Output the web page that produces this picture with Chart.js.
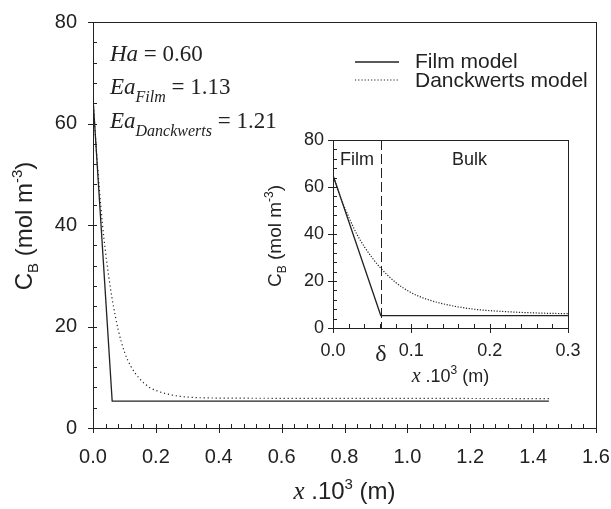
<!DOCTYPE html>
<html>
<head>
<meta charset="utf-8">
<script src="https://cdn.jsdelivr.net/npm/chart.js@4.4.0/dist/chart.umd.min.js"></script>
<style>
  html, body { margin: 0; padding: 0; background: #fff; }
  #wrap { position: relative; width: 611px; height: 509px; }
  #mainChart { position: absolute; left: 0; top: 0; }
  #insetChart { position: absolute; left: 255px; top: 125px; }
</style>
</head>
<body>
<div id="wrap">
  <canvas id="mainChart" width="611" height="509"></canvas>
  <canvas id="insetChart" width="335" height="270"></canvas>
</div>
<script>
// --- data (x in mm, C_B in mol m^-3) ---
const filmX = [0, 0.061, 1.45];
const filmY = [65, 5.3, 5.3];
const danckX = [0, 0.01, 0.02, 0.03, 0.04, 0.05, 0.06, 0.08, 0.10, 0.12, 0.15, 0.18, 0.20, 0.25, 0.30, 0.40, 0.70, 1.45];
const danckY = [65, 55.3, 47.3, 40.2, 34.6, 29.9, 25.8, 19.4, 15.0, 12.2, 9.6, 8.0, 7.4, 6.5, 6.1, 5.9, 5.85, 5.8];
const deltaX = 0.061;

// --- ticks ---
const mainXTicks = [0, 0.2, 0.4, 0.6, 0.8, 1.0, 1.2, 1.4, 1.6];
const mainYTicks = [0, 20, 40, 60, 80];
const insetXTicks = [0, 0.1, 0.2, 0.3];
const insetYTicks = [0, 20, 40, 60, 80];

const SANS = '"Liberation Sans", Arial, sans-serif';
const SERIF = '"Liberation Serif", "Times New Roman", serif';
const INK = '#222';

const pts = (xs, ys) => xs.map((x, i) => ({ x: x, y: ys[i] }));

// draw a row of text pieces with different fonts / offsets
function drawRuns(ctx, runs, x, y, align) {
  let w = 0;
  runs.forEach(r => { ctx.font = r.font; w += ctx.measureText(r.t).width; });
  let cx = align === 'center' ? x - w / 2 : x;
  ctx.textBaseline = 'alphabetic';
  ctx.textAlign = 'left';
  runs.forEach(r => {
    ctx.font = r.font;
    ctx.fillText(r.t, cx, y + (r.dy || 0));
    cx += ctx.measureText(r.t).width;
  });
}

// inward ticks, crossing major ticks and box frame
const tickMarks = {
  id: 'tickMarks',
  afterDraw(chart, args, o) {
    const ctx = chart.ctx, a = chart.chartArea;
    const xs = chart.scales.x, ys = chart.scales.y;
    ctx.save();
    ctx.strokeStyle = INK;
    ctx.lineWidth = 1;
    ctx.beginPath();
    const px = v => Math.round(xs.getPixelForValue(v)) + 0.5;
    const py = v => Math.round(ys.getPixelForValue(v)) + 0.5;
    for (let v = o.xMin; v <= o.xMax + 1e-9; v += o.xMinor) {
      const p = px(v);
      ctx.moveTo(p, a.bottom); ctx.lineTo(p, a.bottom - 4);
    }
    o.xMajor.forEach(v => { const p = px(v); ctx.moveTo(p, a.bottom + 5); ctx.lineTo(p, a.bottom - 4); });
    for (let v = o.yMin; v <= o.yMax + 1e-9; v += o.yMinor) {
      const p = py(v);
      ctx.moveTo(a.left, p); ctx.lineTo(a.left + 4, p);
    }
    o.yMajor.forEach(v => { const p = py(v); ctx.moveTo(a.left - 5, p); ctx.lineTo(a.left + 3, p); });
    ctx.stroke();
    ctx.strokeRect(Math.round(a.left) + 0.5, Math.round(a.top) + 0.5, Math.round(a.width), Math.round(a.height));
    ctx.restore();
  }
};

// labels, legend and titles of the main plot
const mainText = {
  id: 'mainText',
  afterDraw(chart) {
    const ctx = chart.ctx, a = chart.chartArea;
    ctx.save();
    ctx.fillStyle = INK;
    const it = 'italic 23px ' + SERIF, rg = '23px ' + SERIF, sub = 'italic 16px ' + SERIF;
    drawRuns(ctx, [{ t: 'Ha', font: it }, { t: ' = 0.60', font: rg }], 110, 61);
    drawRuns(ctx, [{ t: 'Ea', font: it }, { t: 'Film', font: sub, dy: 8 }, { t: ' = 1.13', font: rg }], 110, 94);
    drawRuns(ctx, [{ t: 'Ea', font: it }, { t: 'Danckwerts', font: sub, dy: 8 }, { t: ' = 1.21', font: rg }], 110, 128);

    // legend
    ctx.strokeStyle = INK;
    ctx.lineWidth = 1.3;
    ctx.beginPath(); ctx.moveTo(355, 62); ctx.lineTo(399, 62); ctx.stroke();
    ctx.lineWidth = 1.2;
    ctx.setLineDash([1.2, 2]);
    ctx.beginPath(); ctx.moveTo(355, 80); ctx.lineTo(399, 80); ctx.stroke();
    ctx.setLineDash([]);
    drawRuns(ctx, [{ t: 'Film model', font: '21px ' + SANS }], 415, 68);
    drawRuns(ctx, [{ t: 'Danckwerts model', font: '21px ' + SANS }], 415, 87);

    // x title
    drawRuns(ctx, [
      { t: 'x', font: 'italic 25px ' + SERIF },
      { t: ' .10', font: '24px ' + SANS },
      { t: '3', font: '15px ' + SANS, dy: -10 },
      { t: ' (m)', font: '24px ' + SANS }
    ], (a.left + a.right) / 2, 499, 'center');

    // y title
    ctx.translate(32, 226);
    ctx.rotate(-Math.PI / 2);
    drawRuns(ctx, [
      { t: 'C', font: '24px ' + SANS },
      { t: 'B', font: '15px ' + SANS, dy: 6 },
      { t: ' (mol m', font: '24px ' + SANS },
      { t: '-3', font: '15px ' + SANS, dy: -10 },
      { t: ')', font: '24px ' + SANS }
    ], 0, 0, 'center');
    ctx.restore();
  }
};

// film / bulk marks and titles of the inset
const insetText = {
  id: 'insetText',
  afterDraw(chart) {
    const ctx = chart.ctx, a = chart.chartArea;
    const xd = Math.round(chart.scales.x.getPixelForValue(deltaX)) + 0.5;
    ctx.save();
    ctx.strokeStyle = INK;
    ctx.lineWidth = 1;
    ctx.setLineDash([10, 4]);
    ctx.beginPath(); ctx.moveTo(xd, a.top); ctx.lineTo(xd, a.bottom); ctx.stroke();
    ctx.setLineDash([]);
    ctx.fillStyle = INK;
    drawRuns(ctx, [{ t: 'Film', font: '18px ' + SANS }], a.left + 7, a.top + 25);
    drawRuns(ctx, [{ t: 'Bulk', font: '18px ' + SANS }], a.left + 119, a.top + 25);
    drawRuns(ctx, [
      { t: 'x', font: 'italic 20px ' + SERIF },
      { t: ' .10', font: '18px ' + SANS },
      { t: '3', font: '12px ' + SANS, dy: -8 },
      { t: ' (m)', font: '18px ' + SANS }
    ], (a.left + a.right) / 2, 257, 'center');
    ctx.translate(26, (a.top + a.bottom) / 2 + 2);
    ctx.rotate(-Math.PI / 2);
    drawRuns(ctx, [
      { t: 'C', font: '19px ' + SANS },
      { t: 'B', font: '12px ' + SANS, dy: 5 },
      { t: ' (mol m', font: '19px ' + SANS },
      { t: '-3', font: '12px ' + SANS, dy: -8 },
      { t: ')', font: '19px ' + SANS }
    ], 0, 0, 'center');
    ctx.restore();
  }
};

function series(dotGap) {
  return [
    { label: 'Film model', data: pts(filmX, filmY), borderColor: INK, borderWidth: 1.3, pointRadius: 0, tension: 0 },
    { label: 'Danckwerts model', data: pts(danckX, danckY), borderColor: INK, borderWidth: 1.2, borderDash: [1.2, dotGap], pointRadius: 0, cubicInterpolationMode: 'monotone' }
  ];
}

// fixed axis size, and no extra padding for overhanging tick labels
function fitTo(prop, size) {
  return s => {
    s[prop] = size;
    s.paddingLeft = s.paddingRight = s.paddingTop = s.paddingBottom = 0;
  };
}

function axis(min, max, ticks, fontSize, pad, fit, label) {
  return {
    type: 'linear', min: min, max: max,
    grid: { display: false, drawTicks: false },
    border: { display: false },
    afterBuildTicks: s => { s.ticks = ticks.map(v => ({ value: v })); },
    afterFit: fit,
    ticks: {
      color: INK, padding: pad,
      font: { family: SANS, size: fontSize },
      callback: label
    }
  };
}

Chart.defaults.animation = false;

new Chart(document.getElementById('mainChart'), {
  type: 'line',
  data: { datasets: series(2.8) },
  options: {
    responsive: false,
    devicePixelRatio: 1,
    layout: { padding: { top: 22, right: 15, left: 0, bottom: 0 } },
    plugins: {
      legend: { display: false }, tooltip: { enabled: false },
      tickMarks: { xMin: 0, xMax: 1.6, xMinor: 0.04, xMajor: mainXTicks, yMin: 0, yMax: 80, yMinor: 4, yMajor: mainYTicks }
    },
    scales: {
      x: axis(0, 1.6, mainXTicks, 20, 17, fitTo('height', 81), v => v.toFixed(1)),
      y: axis(0, 80, mainYTicks, 20, 16, fitTo('width', 93), v => String(v))
    }
  },
  plugins: [tickMarks, mainText]
});

const insetX = axis(0, 0.3, insetXTicks, 18, 12, fitTo('height', 67),
  v => Math.abs(v - deltaX) < 1e-6 ? 'δ' : v.toFixed(1));
insetX.afterBuildTicks = s => {
  s.ticks = insetXTicks.concat([deltaX]).sort((p, q) => p - q).map(v => ({ value: v }));
};
insetX.ticks.font = c => (c.tick && Math.abs(c.tick.value - deltaX) < 1e-6)
  ? { family: SERIF, size: 24 } : { family: SANS, size: 18 };

new Chart(document.getElementById('insetChart'), {
  type: 'line',
  data: { datasets: series(1.6) },
  options: {
    responsive: false,
    devicePixelRatio: 1,
    layout: { padding: { top: 15, right: 22, left: 0, bottom: 0 } },
    plugins: {
      legend: { display: false }, tooltip: { enabled: false },
      tickMarks: { xMin: 0, xMax: 0.3, xMinor: 0.02, xMajor: insetXTicks, yMin: 0, yMax: 80, yMinor: 4, yMajor: insetYTicks }
    },
    scales: {
      x: insetX,
      y: axis(0, 80, insetYTicks, 18, 9, fitTo('width', 78), v => String(v))
    }
  },
  plugins: [tickMarks, insetText]
});
</script>
</body>
</html>
